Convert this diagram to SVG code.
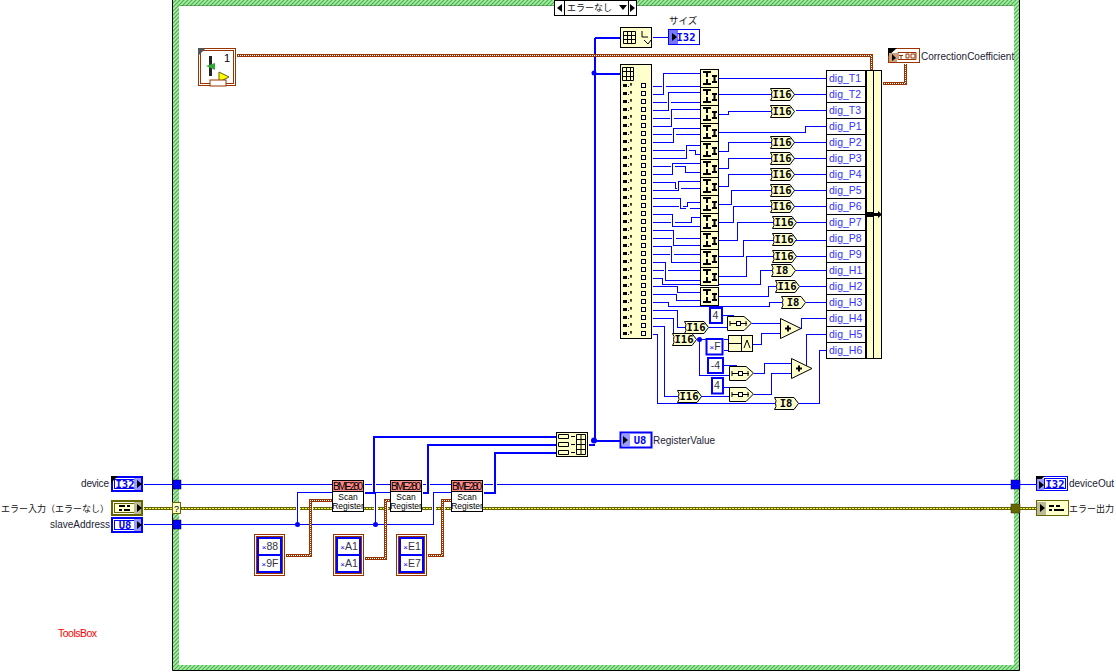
<svg xmlns="http://www.w3.org/2000/svg" xmlns:xlink="http://www.w3.org/1999/xlink" width="1116" height="672" viewBox="0 0 1116 672">
<style>
text{font-family:"Liberation Sans","Noto Sans CJK JP",sans-serif;font-size:10px;fill:#223}
.jp{font-family:"Noto Sans CJK JP",sans-serif;font-size:9px;fill:#111}
.ty{font-family:"DejaVu Sans Mono","Liberation Mono",monospace;font-weight:bold;font-size:10.5px;fill:#000;text-anchor:middle}
.tb{fill:#00f}
.nm{fill:#33f;font-size:10.5px}
.cv{font-size:10.5px;fill:#334;text-anchor:middle}
.n{fill:#ffc;stroke:#000;stroke-width:1}
#connectors path{fill:none;shape-rendering:crispEdges}
.w{stroke:#00f;stroke-width:1}
.t{stroke:#00f;stroke-width:2}
.b{stroke:#930;stroke-width:3}
.bd{stroke:#fff;stroke-width:1;stroke-dasharray:1 1;stroke-dashoffset:.5}
.e{stroke:#660;stroke-width:3}
.ed{stroke:#ff3;stroke-width:1;stroke-dasharray:2 1;stroke-dashoffset:.5}
.k{fill:#000}
.gl{fill:none;stroke:#000;stroke-width:1}
.sub{font-size:8.500px;fill:#000;text-anchor:middle}
.hd{font-size:10px;fill:#000;text-anchor:middle}
</style>
<defs>
<pattern id="hatch" width="4" height="4" patternUnits="userSpaceOnUse">
<rect width="4" height="4" fill="#a6eea6"/>
<path d="M-1 1L1 -1M0 4L4 0M3 5L5 3" stroke="#4caf4c" stroke-width="1.2"/>
</pattern>
<g id="cvn"><path class="n" d="M0.5 0.5H20L24.5 6.5L20 12.5H0.5Q3 9.500 1.500 6.500Q3 3.500 .5 .5Z"/></g>
<g id="join">
<rect class="n" x="0.5" y="0.500" width="18" height="18"/>
<path class="k" d="M3 2H11V4H8V8H6V4H3ZM6 10H8V14H11V16H3V14H6Z"/>
<path class="k" d="M12 6H17V8H15.500V12H17V14H12V12H13.500V8H12Z"/>
</g>
<g id="row">
<rect class="k" x="0" y="-2" width="4" height="3"/>
<rect class="k" x="5" y="0" width="1" height="1"/>
<path d="M8 -3V0M7 -2H9" stroke="#000" stroke-width="1"/>
<rect x="18.500" y="-2.500" width="4" height="4" fill="#fff" stroke="#000"/>
</g>
<g id="shift">
<path class="n" d="M0.500 0.500H17L24.500 7L17 14.500H0.500Z"/>
<path class="gl" d="M3 7.500H20M3 5V10M19 5V10"/>
<rect x="9.500" y="5.500" width="4" height="4" fill="#fff" stroke="#000"/>
</g>
<g id="plus">
<path class="n" d="M0.500 0.500L21 10.500L0.500 20.500Z"/>
<path d="M5 10.500H11M8 7.500V13.500" stroke="#000" stroke-width="2"/>
</g>
<g id="dbl">
<rect x="0.500" y="0.500" width="30" height="41" fill="#fff" stroke="#930"/>
<rect x="2.500" y="2.500" width="26" height="37" fill="#fff" stroke="#930"/>
<rect x="3" y="3" width="25" height="36" fill="#00f"/>
<rect x="5" y="5" width="21" height="15" fill="#fff"/>
<rect x="5" y="22" width="21" height="15" fill="#fff"/>
</g>
</defs>

<g id="frame">
<rect x="172" y="-1" width="848" height="672" fill="#fff" stroke="none"/>
<path fill="url(#hatch)" fill-rule="evenodd" d="M173 0H1019V670H173ZM179 6V665H1014V6Z"/>
<path d="M172.500 0V670.500H1019.500V0" fill="none" stroke="#000"/>
<path d="M179.500 5.500H1013.500" stroke="#337733" opacity=".5"/>
</g>

<g id="connectors" transform="translate(.5 .5)">
<path class="e" d="M143 508H295M299 508H308M312 508H373M377 508H383M387 508H431M435 508H440M444 508H1036"/>
<path class="ed" d="M143 508H295M299 508H308M312 508H373M377 508H383M387 508H431M435 508H440M444 508H1036"/>
<path class="w" d="M143 484H332M364 484H371M375 484H390M422 484H425M429 484H451M483 484H492M496 484H1036"/>
<path class="w" d="M143 524H433V492H451M297 524V492H332M375 524V492H390"/>
<path class="b" d="M285 555H310V500H332M364 558H385V500H390M427 555H442V500H451"/>
<path class="bd" d="M285 555H310V500H332M364 558H385V500H390M427 555H442V500H451"/>
<path class="t" d="M364 492H373V436H556M422 492H427V444H556M483 492H494V452H556M588 444H594M594 37V440M594 37H620M594 73H620M594 440H620"/>
<path class="b" d="M236 55H871V70M882 83H905V63"/>
<path class="bd" d="M236 55H871V70M882 83H905V63"/>
<path class="w" d="M652 37H668"/>
<path class="w" d="M652 86H661M665 86H700M652 94H663V73H700M652 102H666M670 102H700M652 110H668V92H700M652 118H669M673 118H700M652 126H671V109H700M652 134H671M675 134H700M652 142H673V128H700M652 150H684M688 150H695V154H700M652 158H686V145H700M652 166H670M674 166H685V172H700M652 174H672V163H700M652 182H675V188H676M680 188H700M652 190H678V181H700M652 198H680V208H685M689 208H700M652 206H678M682 206H687V202H700M652 214H672V226H700M652 222H670M674 222H691V217H700M652 230H673V245H700M652 238H671M675 238H700M652 246H671V262H700M652 254H669M673 254H700M652 262H665V280H700M652 270H663M667 270H700M652 278H662V284H760V270H771M652 286H677V292H700M652 294H676V300H700M652 302H668V306H769V302H781M652 310H677V327H685M652 318H673V333M652 326H664V396H677M652 334H657V403H774"/>
<path class="w" d="M718 78H826M718 94H826M718 114H728V111H770M795 110H826M718 132H805V126H826M718 151H728V142H826M718 168H728V158H826M718 186H728V174H826M718 204H731V190H826M718 222H733V206H826M718 240H737V222H826M718 256H743V240H826M718 276H746V256H826M795 270H826M799 286H826M805 302H826"/>
<path class="w" d="M718 296H768V286H775M708 327H727M722 315H733M696 339H706M723 339H728M723 350H728M699 339V375H729M723 365H736M723 387H736M700 396H729M751 323H780M752 344H761V333H780M753 373H764V363H791M753 394H771V373H791M801 328V318H826M806 365V334H826M798 403H819V350H826"/>
</g>

<g id="selector">
<rect x="554.500" y="0.500" width="82" height="15" fill="#fff" stroke="#000"/>
<path d="M564.500 0V15M628.500 0V15" stroke="#000"/>
<path class="k" d="M562 4V12L557 8ZM630 4V12L635 8ZM619 5H627L623 10Z"/>
<text class="jp" x="567" y="11">エラーなし</text>
</g>

<g id="subarray-coef">
<rect x="198.500" y="48.500" width="37" height="37" fill="#fff" stroke="#930"/>
<rect x="200.500" y="50.500" width="33" height="33" fill="none" stroke="#930"/>
<path d="M198 48H206L198 56Z" fill="#555"/>
<rect x="209" y="56" width="3" height="20" fill="#222"/>
<path d="M206 66L215 63V70Z" fill="#3a3"/>
<path d="M219 72V82L229 77Z" fill="#ff0" stroke="#660"/>
<text x="224" y="62" style="font-size:11px;fill:#000">1</text>
<rect x="210" y="80" width="16" height="6" fill="#fff" stroke="#930"/>
</g>

<g id="node-arraysize"><rect class="n" x="620.500" y="27.500" width="31" height="20"/>
<path class="gl" d="M623.500 31.500H635.500V43.500H623.500ZM623.500 35.500H635.500M623.500 39.500H635.500M627.500 31.500V43.500M631.500 31.500V43.500"/>
<path class="gl" d="M642 31V37H648M644 40L648 44L651 40"/></g>
<g id="ind-size"><rect x="668.500" y="29.500" width="31" height="15" fill="#fff" stroke="#00f" stroke-width="1"/><rect x="669" y="30" width="9" height="14" fill="#77f"/><path class="k" d="M672 33L677 37L672 41Z"/><text class="ty tb" x="686" y="41">I32</text></g>
<text class="jp" x="669" y="24" style="font-size:9.500px">サイズ</text>

<g id="node-index"><rect class="n" x="620.500" y="64.500" width="31" height="274"/>
<path class="gl" d="M622.500 67.500H633.500V80.500H622.500ZM622.500 71.500H633.500M622.500 76.500H633.500M626.500 67.500V80.500M630.500 67.500V80.500"/>
<use href="#row" x="623" y="86"/><use href="#row" x="623" y="94"/><use href="#row" x="623" y="102"/><use href="#row" x="623" y="110"/><use href="#row" x="623" y="118"/><use href="#row" x="623" y="126"/><use href="#row" x="623" y="134"/><use href="#row" x="623" y="142"/><use href="#row" x="623" y="150"/><use href="#row" x="623" y="158"/><use href="#row" x="623" y="166"/><use href="#row" x="623" y="174"/><use href="#row" x="623" y="182"/><use href="#row" x="623" y="190"/><use href="#row" x="623" y="198"/><use href="#row" x="623" y="206"/><use href="#row" x="623" y="214"/><use href="#row" x="623" y="222"/><use href="#row" x="623" y="230"/><use href="#row" x="623" y="238"/><use href="#row" x="623" y="246"/><use href="#row" x="623" y="254"/><use href="#row" x="623" y="262"/><use href="#row" x="623" y="270"/><use href="#row" x="623" y="278"/><use href="#row" x="623" y="286"/><use href="#row" x="623" y="294"/><use href="#row" x="623" y="302"/><use href="#row" x="623" y="310"/><use href="#row" x="623" y="318"/><use href="#row" x="623" y="326"/><use href="#row" x="623" y="334"/>
</g>

<g id="joins">
<use href="#join" x="700" y="69"/><use href="#join" x="700" y="87"/><use href="#join" x="700" y="105"/><use href="#join" x="700" y="123"/><use href="#join" x="700" y="141"/><use href="#join" x="700" y="159"/><use href="#join" x="700" y="177"/><use href="#join" x="700" y="195"/><use href="#join" x="700" y="213"/><use href="#join" x="700" y="231"/><use href="#join" x="700" y="249"/><use href="#join" x="700" y="267"/><use href="#join" x="700" y="287"/>
</g>

<g id="conversions">
<use href="#cvn" x="770" y="88"/><text class="ty" x="782" y="98">I16</text>
<use href="#cvn" x="770" y="105"/><text class="ty" x="782" y="115">I16</text>
<use href="#cvn" x="770" y="136"/><text class="ty" x="782" y="146">I16</text>
<use href="#cvn" x="770" y="152"/><text class="ty" x="782" y="162">I16</text>
<use href="#cvn" x="770" y="168"/><text class="ty" x="782" y="178">I16</text>
<use href="#cvn" x="770" y="184"/><text class="ty" x="782" y="194">I16</text>
<use href="#cvn" x="770" y="200"/><text class="ty" x="782" y="210">I16</text>
<use href="#cvn" x="772" y="216"/><text class="ty" x="784" y="226">I16</text>
<use href="#cvn" x="772" y="233"/><text class="ty" x="784" y="243">I16</text>
<use href="#cvn" x="772" y="250"/><text class="ty" x="784" y="260">I16</text>
<use href="#cvn" x="771" y="264"/><text class="ty" x="782" y="274">I8</text>
<use href="#cvn" x="775" y="280"/><text class="ty" x="787" y="290">I16</text>
<use href="#cvn" x="781" y="296"/><text class="ty" x="793" y="306">I8</text>
<use href="#cvn" x="684" y="321"/><text class="ty" x="696" y="331">I16</text>
<use href="#cvn" x="672" y="333"/><text class="ty" x="684" y="343">I16</text>
<use href="#cvn" x="677" y="390"/><text class="ty" x="689" y="400">I16</text>
<use href="#cvn" x="774" y="397"/><text class="ty" x="786" y="407">I8</text>
</g>

<g id="math">
<use href="#shift" x="727" y="316"/><use href="#shift" x="729" y="366"/><use href="#shift" x="729" y="387"/>
<use href="#plus" x="780" y="318"/><use href="#plus" x="791" y="358"/>
<g id="node-and"><rect class="n" x="728.500" y="335.500" width="24" height="16"/><path class="gl" d="M741.500 335V351M729 343.500H741M744 348L747 340L750 348"/></g>
<circle cx="699.500" cy="339.500" r="2.500" fill="#00f"/>
</g>

<g id="constants">
<rect x="710" y="308" width="12" height="15" fill="#fff" stroke="#00f" stroke-width="2"/><text class="cv" x="715.500" y="319">4</text>
<rect x="706.500" y="339" width="16" height="15.500" fill="#fff" stroke="#00f" stroke-width="2"/><text class="cv" x="715" y="350"><tspan fill="#00f" font-size="8">×</tspan>F</text>
<rect x="708" y="358" width="15" height="15" fill="#fff" stroke="#00f" stroke-width="2"/><text class="cv" x="715.500" y="369">-4</text>
<rect x="712" y="378" width="11" height="15.500" fill="#fff" stroke="#00f" stroke-width="2"/><text class="cv" x="717" y="389">4</text>
</g>

<g id="bundle">
<rect x="826.500" y="70.500" width="39" height="288" fill="#fff" stroke="#000"/>
<rect class="n" x="866.500" y="70.500" width="7" height="288"/><rect class="n" x="873.500" y="70.500" width="8" height="288"/>
<path d="M826 86.500H866M826 102.500H866M826 118.500H866M826 134.500H866M826 150.500H866M826 166.500H866M826 182.500H866M826 198.500H866M826 214.500H866M826 230.500H866M826 246.500H866M826 262.500H866M826 278.500H866M826 294.500H866M826 310.500H866M826 326.500H866M826 342.500H866" stroke="#000"/>
<path class="k" d="M867 212H874V213H878V211L882 214.500L878 218V216H874V217H867Z"/>
<text class="nm" x="829" y="82">dig_T1</text><text class="nm" x="829" y="98">dig_T2</text><text class="nm" x="829" y="114">dig_T3</text><text class="nm" x="829" y="130">dig_P1</text><text class="nm" x="829" y="146">dig_P2</text><text class="nm" x="829" y="162">dig_P3</text><text class="nm" x="829" y="178">dig_P4</text><text class="nm" x="829" y="194">dig_P5</text><text class="nm" x="829" y="210">dig_P6</text><text class="nm" x="829" y="226">dig_P7</text><text class="nm" x="829" y="242">dig_P8</text><text class="nm" x="829" y="258">dig_P9</text><text class="nm" x="829" y="274">dig_H1</text><text class="nm" x="829" y="290">dig_H2</text><text class="nm" x="829" y="306">dig_H3</text><text class="nm" x="829" y="322">dig_H4</text><text class="nm" x="829" y="338">dig_H5</text><text class="nm" x="829" y="354">dig_H6</text>
</g>

<g id="ind-coef"><rect x="888.500" y="48.500" width="31" height="14" fill="#fff" stroke="#930"/><path d="M888 48H897L888 56Z" fill="#000"/><rect x="889" y="53" width="8" height="9" fill="#c9a27c"/><path class="k" d="M892 54L896 58L892 61Z"/><path d="M898 52.500H916V59.500H898ZM899 55.500H903M901 55V59M906 54H909V58H906ZM911 54H915V58H911Z" fill="none" stroke="#930"/></g>
<text x="921" y="60">CorrectionCoefficient</text>

<g id="build-array"><rect class="n" x="556.500" y="432.500" width="31" height="24"/>
<path class="gl" d="M558.500 434.500H568.500V438.500H558.500ZM558.500 442.500H568.500V446.500H558.500ZM558.500 450.500H568.500V454.500H558.500ZM576.500 434.500H585.500V454.500H576.500ZM576.500 439.500H585.500M576.500 444.500H585.500M576.500 449.500H585.500M581 434.500V454.500M571 436.500H575M571 444.500H575M571 452.500H575"/></g>
<circle cx="594" cy="73" r="2.500" fill="#00f"/><circle cx="594" cy="440.500" r="3" fill="#00f"/>
<g id="ind-reg"><rect x="620.500" y="432.500" width="31" height="15" fill="#fff" stroke="#00f" stroke-width="2"/><rect x="622" y="434" width="8" height="12" fill="#99f"/><path class="k" d="M623 436L628 440L623 444Z"/><text class="ty tb" x="640" y="444">U8</text></g>
<text x="653" y="444">RegisterValue</text>

<g id="scan1"><rect x="332.500" y="480.500" width="31" height="31" fill="#fff" stroke="#000"/><rect x="333" y="481" width="30" height="10" fill="#f88"/><path d="M332 491.500H364" stroke="#000"/><text class="hd" x="348" y="490" textLength="30">BME280</text><text class="sub" x="348" y="500">Scan</text><text class="sub" x="348" y="509">Register</text></g>
<g id="scan2"><rect x="390.500" y="480.500" width="31" height="31" fill="#fff" stroke="#000"/><rect x="391" y="481" width="30" height="10" fill="#f88"/><path d="M390 491.500H422" stroke="#000"/><text class="hd" x="406" y="490" textLength="30">BME280</text><text class="sub" x="406" y="500">Scan</text><text class="sub" x="406" y="509">Register</text></g>
<g id="scan3"><rect x="451.500" y="480.500" width="31" height="31" fill="#fff" stroke="#000"/><rect x="452" y="481" width="30" height="10" fill="#f88"/><path d="M451 491.500H483" stroke="#000"/><text class="hd" x="467" y="490" textLength="30">BME280</text><text class="sub" x="467" y="500">Scan</text><text class="sub" x="467" y="509">Register</text></g>
<circle cx="297.500" cy="524.500" r="2.500" fill="#00f"/><circle cx="375.500" cy="524.500" r="2.500" fill="#00f"/>

<g id="const-a"><use href="#dbl" x="254" y="534"/><text class="cv" x="270" y="550"><tspan fill="#00f" font-size="8">×</tspan>88</text><text class="cv" x="270" y="567"><tspan fill="#00f" font-size="8">×</tspan>9F</text></g>
<g id="const-b"><use href="#dbl" x="333" y="534"/><text class="cv" x="349" y="550"><tspan fill="#00f" font-size="8">×</tspan>A1</text><text class="cv" x="349" y="567"><tspan fill="#00f" font-size="8">×</tspan>A1</text></g>
<g id="const-c"><use href="#dbl" x="396" y="534"/><text class="cv" x="412" y="550"><tspan fill="#00f" font-size="8">×</tspan>E1</text><text class="cv" x="412" y="567"><tspan fill="#00f" font-size="8">×</tspan>E7</text></g>

<g id="term-device"><rect x="112" y="477" width="30" height="14" fill="#fff" stroke="#00f" stroke-width="2"/><rect x="114.500" y="479.500" width="25" height="9" fill="none" stroke="#00f"/><rect x="134" y="478" width="7" height="12" fill="#99f"/><path d="M111 476H118L111 483Z" fill="#000"/><path class="k" d="M137 480L142 484L137 488Z"/><text class="ty tb" x="125" y="488">I32</text></g>
<text x="81" y="487" textLength="28">device</text>
<g id="term-error"><rect x="112" y="501" width="30" height="14" fill="#fff" stroke="#660" stroke-width="2"/><rect x="114.500" y="503.500" width="25" height="9" fill="#ffc" stroke="#660"/><rect x="134" y="502" width="7" height="12" fill="#bb9"/><path class="k" d="M137 504L142 508L137 512ZM119 505H125V507H119ZM127 505H130V507H127ZM119 509H122V511H119ZM124 509H130V511H124Z"/></g>
<text class="jp" x="1" y="512">エラー入力（エラーなし）</text>
<g id="term-slave"><rect x="112" y="518" width="30" height="14" fill="#fff" stroke="#00f" stroke-width="2"/><rect x="114.500" y="520.500" width="25" height="9" fill="none" stroke="#00f"/><rect x="134" y="519" width="7" height="12" fill="#99f"/><path class="k" d="M137 521L142 525L137 529Z"/><text class="ty tb" x="125" y="529">U8</text></g>
<text x="50" y="528">slaveAddress</text>

<g id="tunnels">
<rect x="173" y="480" width="8" height="9" fill="#00f" stroke="#003" stroke-width=".5"/>
<rect x="173" y="520" width="8" height="9" fill="#00f" stroke="#003" stroke-width=".5"/>
<rect x="172.500" y="502.500" width="8" height="11" fill="#ffc" stroke="#660"/><text x="176.500" y="512" style="font-size:9px;fill:#000;text-anchor:middle">?</text>
<rect x="1011" y="480" width="9" height="9" fill="#00f" stroke="#003" stroke-width=".5"/>
<rect x="1011" y="504" width="9" height="9" fill="#660" stroke="#330" stroke-width=".5"/>
</g>

<g id="ind-deviceout"><rect x="1036.500" y="476.500" width="31" height="14" fill="#fff" stroke="#00f"/><path d="M1036 476H1045L1036 484Z" fill="#000"/><rect x="1037" y="479" width="7" height="11" fill="#99f"/><path class="k" d="M1039 481L1044 485L1039 489Z"/><rect x="1044.500" y="478.500" width="21" height="10" fill="none" stroke="#00f"/><text class="ty tb" x="1055" y="488">I32</text></g>
<text x="1069" y="487">deviceOut</text>
<g id="ind-errorout"><rect x="1036.500" y="500.500" width="32" height="15" fill="#ffc" stroke="#660"/><rect x="1037" y="502" width="9" height="13" fill="#bb9"/><path class="k" d="M1040 504L1045 508L1040 512ZM1049 505H1054V507H1049ZM1056 505H1060V507H1056ZM1049 509H1052V511H1049ZM1054 509H1064V511H1054Z"/></g>
<text class="jp" x="1069" y="512">エラー出力</text>

<text x="58" y="637" style="fill:#f00;font-size:10.500px" textLength="39">ToolsBox</text>
</svg>
